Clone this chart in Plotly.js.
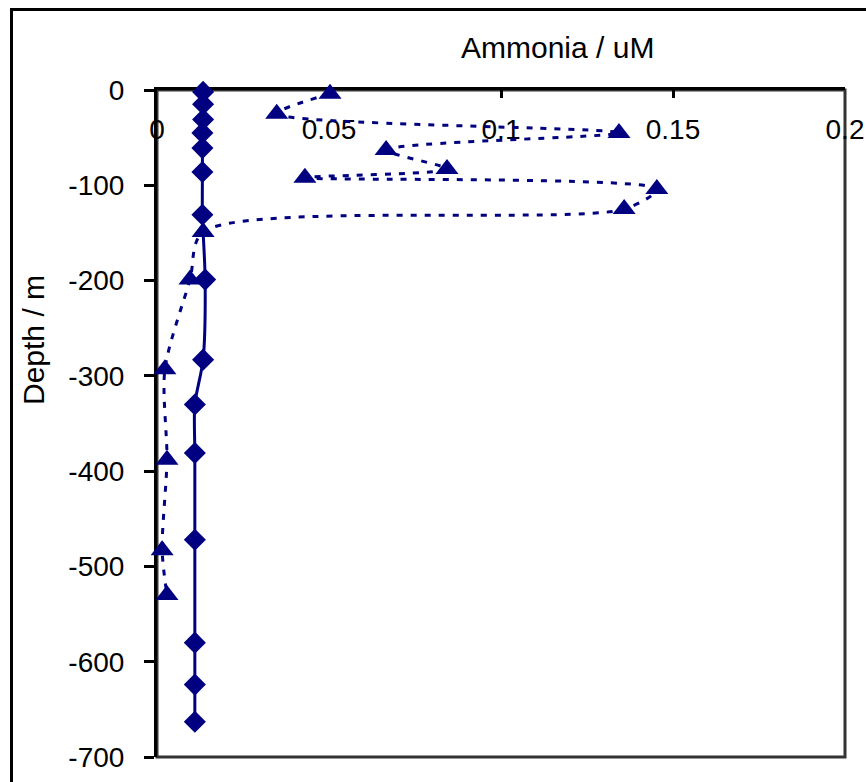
<!DOCTYPE html>
<html>
<head>
<meta charset="utf-8">
<script src="https://cdn.plot.ly/plotly-3.0.1.min.js"></script>
<style>
html,body{margin:0;padding:0;background:#fff;overflow:hidden;}
#chart{width:866px;height:782px;}
</style>
</head>
<body>
<div id="chart"></div>
<script>
// Series 1 (diamonds, solid line)
const depthDiamond = [-2, -15, -31, -45, -61, -86, -131, -199, -283, -330, -381, -472, -580, -624, -663];
const ammoniaDiamond = [0.0134, 0.0134, 0.0134, 0.0132, 0.0132, 0.0132, 0.0132, 0.0140, 0.0134, 0.0110, 0.0110, 0.0110, 0.0110, 0.0110, 0.0110];

// Series 2 (triangles, dotted line)
const depthTriangle = [-4, -25, -45, -63, -83, -92, -104, -125, -149, -199, -293, -388, -483, -530];
const ammoniaTriangle = [0.0503, 0.0348, 0.1343, 0.0666, 0.0843, 0.0430, 0.1453, 0.1358, 0.0134, 0.0096, 0.0023, 0.0029, 0.0015, 0.0029];

// Axis ticks
const xTickVals = [0, 0.05, 0.1, 0.15, 0.2];
const xTickText = ['0', '0.05', '0.1', '0.15', '0.2'];
const yTickVals = [0, -100, -200, -300, -400, -500, -600, -700];
const yTickText = ['0', '-100', '-200', '-300', '-400', '-500', '-600', '-700'];

const xTitle = 'Ammonia / uM';
const yTitle = 'Depth / m';

const navy = '#000080';
const font = {family: '"Liberation Sans", Arial, sans-serif', size: 28, color: '#000'};
const titleFont = {family: '"Liberation Sans", Arial, sans-serif', size: 30, color: '#000'};

const traces = [
  {
    x: ammoniaTriangle, y: depthTriangle, type: 'scatter', mode: 'lines+markers',
    line: {color: navy, width: 3, dash: '6px,8px', shape: 'spline', smoothing: 0.8},
    marker: {symbol: 'triangle-up', size: 20, color: navy},
    cliponaxis: false, hoverinfo: 'skip'
  },
  {
    x: ammoniaDiamond, y: depthDiamond, type: 'scatter', mode: 'lines+markers',
    line: {color: navy, width: 3, shape: 'spline', smoothing: 0.8},
    marker: {symbol: 'diamond', size: 17, color: navy},
    cliponaxis: false, hoverinfo: 'skip'
  }
];

const L = 157, R = 845, T = 90, B = 757;
const W = R - L, H = B - T;
const px2x = p => (p - L) / W;
const py2y = p => (B - p) / H;

const layout = {
  width: 866, height: 782,
  margin: {l: L, r: 866 - R, t: T, b: 782 - B, pad: 0},
  paper_bgcolor: '#fff', plot_bgcolor: '#fff',
  showlegend: false,
  font: font,
  xaxis: {
    range: [0, 0.2], side: 'top', showgrid: false, zeroline: false,
    showline: true, linecolor: '#000', linewidth: 3,
    ticks: 'inside', ticklen: 8, tickwidth: 3, tickcolor: '#000',
    tickvals: xTickVals, ticktext: xTickText,
    ticklabelposition: 'inside', ticklabeloverflow: 'allow', ticklabelstandoff: 24,
    tickfont: font, layer: 'below traces', fixedrange: true
  },
  yaxis: {
    range: [-700, 0], showgrid: false, zeroline: false,
    showline: true, linecolor: '#000', linewidth: 3,
    ticks: 'outside', ticklen: 10, tickwidth: 3, tickcolor: '#000',
    tickvals: yTickVals, ticktext: yTickText, ticklabelstandoff: 14,
    tickfont: font, layer: 'below traces', fixedrange: true
  },
  shapes: [
    {type: 'rect', xref: 'paper', yref: 'paper', x0: 0, x1: 1, y0: 0, y1: 1,
     line: {color: '#333', width: 3}, layer: 'below'},
    {type: 'rect', xref: 'paper', yref: 'paper',
     x0: px2x(11.5), x1: px2x(900), y0: py2y(820), y1: py2y(9.5),
     line: {color: '#000', width: 3}, layer: 'above'}
  ],
  annotations: [
    {text: xTitle, xref: 'paper', yref: 'paper', x: px2x(557), y: py2y(47),
     xanchor: 'center', yanchor: 'middle', showarrow: false, font: titleFont},
    {text: yTitle, xref: 'paper', yref: 'paper', x: px2x(33), y: py2y(340),
     xanchor: 'center', yanchor: 'middle', showarrow: false, textangle: -90, font: titleFont}
  ]
};

Plotly.newPlot('chart', traces, layout, {displayModeBar: false, staticPlot: true});
</script>
</body>
</html>
